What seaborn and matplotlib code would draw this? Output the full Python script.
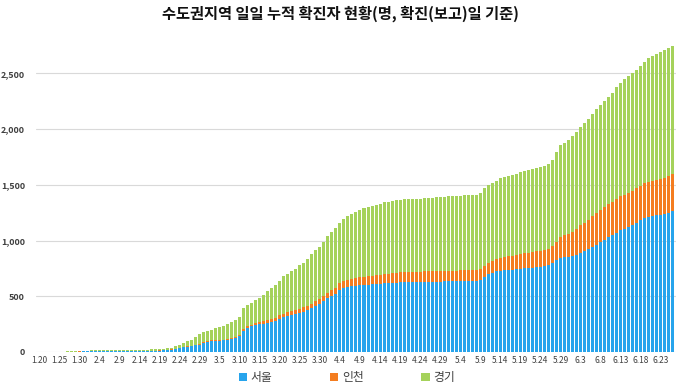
import pandas as pd
import numpy as np
import matplotlib
matplotlib.use('Agg')
import matplotlib.pyplot as plt
import seaborn as sns

# dates 1.20 ~ 6.26 (one bar per day)
months = [(1, 20, 31), (2, 1, 29), (3, 1, 31), (4, 1, 30), (5, 1, 31), (6, 1, 26)]
dates = [f'{m}.{d}' for m, d0, d1 in months for d in range(d0, d1 + 1)]

# cumulative confirmed cases
seoul = [0, 0, 0, 0, 1, 1, 1, 1, 1, 1, 3, 4, 4, 5, 5, 5, 6, 7, 7, 7, 7, 7, 7, 7, 7, 7, 7, 9,
         10, 10, 12, 14, 15, 21, 24, 36, 42, 48, 54, 60, 66,
         84, 90, 96, 99, 100, 103, 108, 120, 129, 144, 192, 217, 229, 241, 250, 255, 262, 268,
         277, 295, 310, 322, 331, 337, 349, 358, 373, 391, 409, 433, 454, 481, 505, 523, 559, 575,
         584, 590, 596, 599, 602, 605, 608, 611, 614, 616, 618, 620, 622, 624,
         625, 626, 627, 627, 628, 629, 629, 630, 631, 632, 633, 633, 634, 634, 635, 635, 636, 637, 638,
         644, 674, 695, 710, 722, 728, 731, 734, 737, 740, 746, 750, 752, 755, 761, 764, 770, 776,
         794, 821, 842, 851, 854, 860, 872, 890, 908, 920, 944, 963, 987, 1005, 1029, 1047, 1071,
         1095, 1107, 1119, 1137, 1161, 1185, 1203, 1215, 1218, 1227, 1233, 1239, 1251, 1266]
incheon = [1] * 36 + \
          [2, 3, 3, 5, 6, 6, 7, 7, 7, 8, 8, 8, 9, 9, 9, 13, 14, 16, 18, 20, 22, 25, 28,
           30, 32, 34, 36, 38, 39, 40, 41, 42, 43, 44, 46, 48, 51, 54, 55, 58, 60, 62, 65,
           67, 69, 70, 72, 74, 76, 78, 80, 83, 86, 88, 90,
           91, 91, 92, 92, 92, 93, 93, 93, 94, 94, 94, 95, 95, 95, 96, 96, 96, 97, 97,
           98, 100, 105, 107, 110, 114, 120, 123, 126, 129, 134, 137, 140, 141, 142, 144, 145, 147,
           156, 165, 190, 195, 205, 220, 230, 245, 253, 262, 277, 287, 290, 294, 296, 300, 301,
           302, 303, 304, 305, 306, 308, 310, 312, 316, 319, 320, 325, 326, 334]
gyeonggi = [0, 0, 0, 0, 0, 0, 1, 2, 2, 2, 3, 5, 6, 7, 7, 8, 9, 10, 10, 10, 11, 11, 11, 11, 11, 11, 11, 11,
            11, 11, 11, 12, 15, 16, 29, 29, 34, 45, 51, 67, 87,
            88, 95, 97, 108, 115, 124, 137, 142, 151, 160, 186, 189, 195, 204, 211, 234, 260, 279,
            298, 314, 336, 343, 353, 364, 387, 401, 415, 441, 461, 462, 488, 509, 518, 538, 544, 562,
            575, 581, 594, 607, 621, 628, 629, 633, 638, 646, 647, 648, 650, 652,
            653, 654, 654, 655, 656, 656, 657, 658, 661, 665, 667, 669, 670, 671, 672, 674, 675, 675, 676,
            684, 694, 698, 702, 705, 716, 718, 720, 722, 725, 732, 740, 742, 744, 745, 752, 757, 767,
            777, 807, 821, 831, 842, 854, 871, 880, 893, 912, 915, 928, 937, 951, 964, 981, 1004,
            1021, 1044, 1053, 1058, 1060, 1076, 1092, 1108, 1125, 1128, 1136, 1143, 1148, 1149]

df = pd.DataFrame({'date': dates, '서울': seoul, '인천': incheon, '경기': gyeonggi})
df['s_i'] = df['서울'] + df['인천']
df['total'] = df['s_i'] + df['경기']

colors = {'서울': '#27A4EC', '인천': '#F47D20', '경기': '#A5D25B'}

sns.set_style('white')
plt.rcParams['font.family'] = ['Noto Sans CJK KR', 'DejaVu Sans']

fig = plt.figure(figsize=(6.8, 3.88), dpi=100)
ax = fig.add_axes([0.053, 0.093, 0.941, 0.804])

# stacked bars: draw totals first, then overlay lower stacks
for col, key in [('total', '경기'), ('s_i', '인천'), ('서울', '서울')]:
    sns.barplot(data=df, x='date', y=col, color=colors[key], saturation=1,
                width=0.75, linewidth=0, errorbar=None, ax=ax, label=key, zorder=3)

ax.set_ylim(0, 2800)
ax.set_xlim(-0.8, len(dates) - 0.2)
ax.set_yticks(range(0, 2501, 500))
ax.set_yticklabels([f'{v:,}' for v in range(0, 2501, 500)], fontsize=6.5,
                   fontweight='bold', color='#404040')
ticks = list(range(0, len(dates), 5))
ax.set_xticks(ticks)
ax.set_xticklabels([dates[i] for i in ticks], fontsize=6, color='#404040')
ax.tick_params(axis='x', length=0, pad=3)
ax.tick_params(axis='y', length=0, pad=8)
ax.yaxis.grid(True, color='#D9D9D9', linewidth=0.8, zorder=0)
ax.set_axisbelow(True)
for s in ax.spines.values():
    s.set_visible(False)
ax.set_xlabel('')
ax.set_ylabel('')

fig.suptitle('수도권지역 일일 누적 확진자 현황(명, 확진(보고)일 기준)', x=0.5, y=0.985,
             fontsize=11, fontweight='bold', color='#111111')

handles, labels = ax.get_legend_handles_labels()
order = [labels.index(k) for k in ['서울', '인천', '경기']]
ax.legend([handles[i] for i in order], [labels[i] for i in order],
          loc='lower center', bbox_to_anchor=(0.51, -0.012), bbox_transform=fig.transFigure,
          ncol=3, frameon=False, fontsize=8.5, handlelength=0.7, handleheight=0.7,
          handletextpad=0.3, columnspacing=4.9, labelcolor='#404040', borderpad=0.2)

fig.savefig('out.png', dpi=100)
